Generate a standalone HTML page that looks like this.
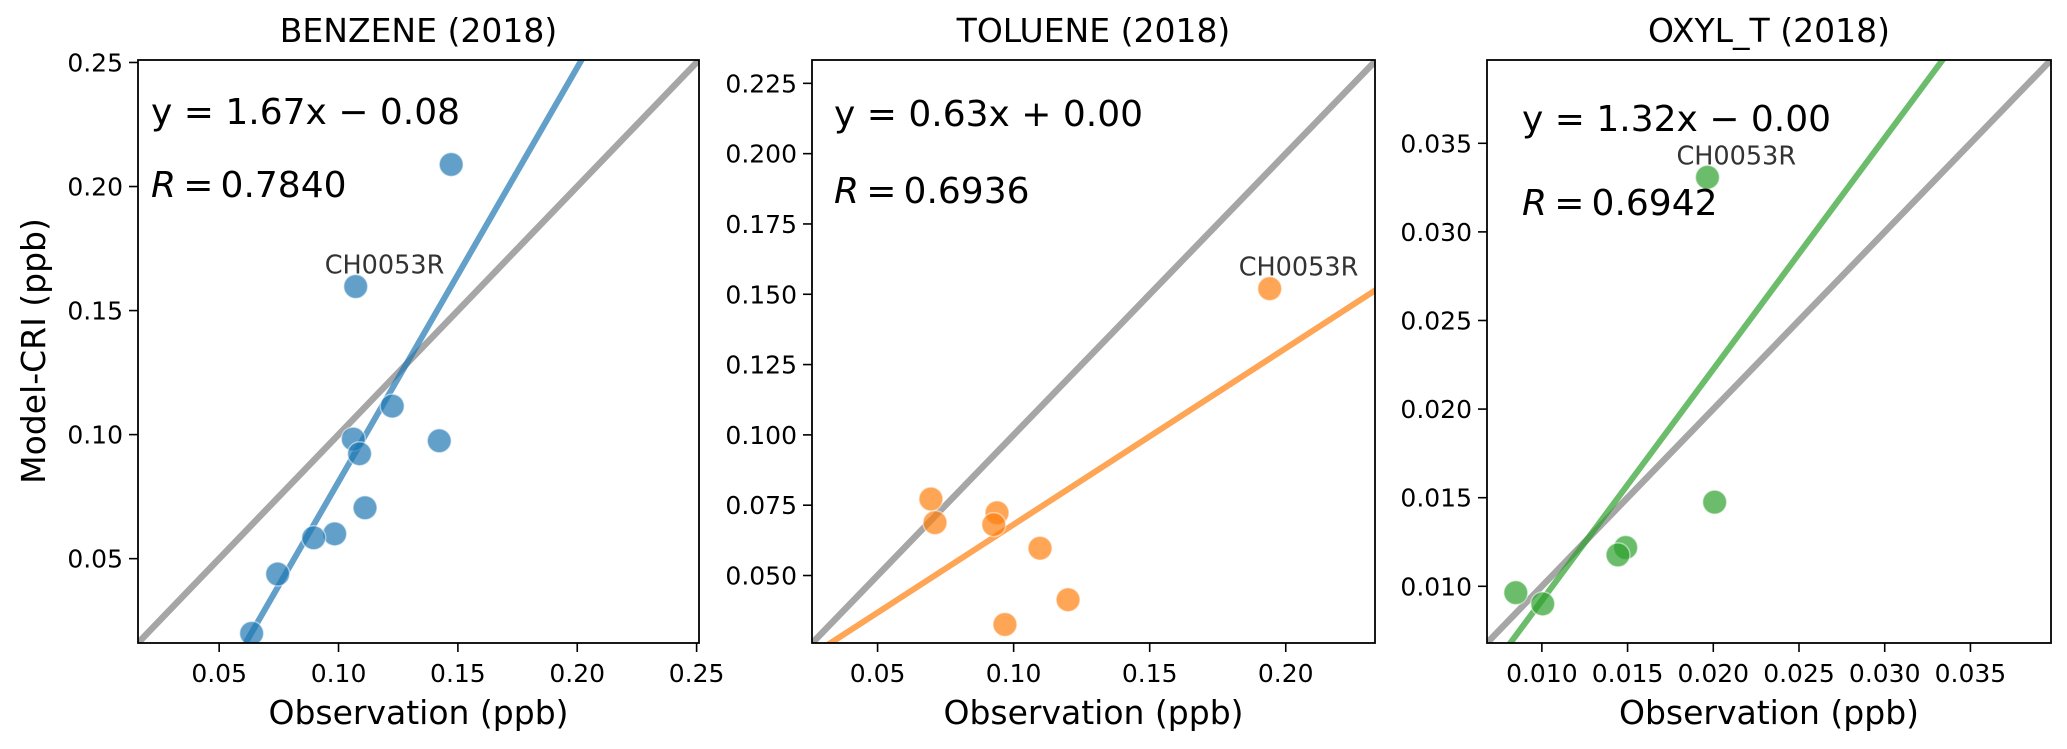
<!DOCTYPE html>
<html>
<head>
<meta charset="utf-8">
<style>
html,body{margin:0;padding:0;background:#fff;width:2067px;height:749px;overflow:hidden;}
svg{display:block;}
text{font-family:"DejaVu Sans","Liberation Sans",sans-serif;}
</style>
</head>
<body>
<svg id="chart" width="2067" height="749" viewBox="0 0 2067 749" xmlns="http://www.w3.org/2000/svg"></svg>
<script>
// ---------- data ----------
const benzeneObs = [0.1472,0.1072,0.1225,0.1422,0.1062,0.1088,0.1111,0.0984,0.0896,0.0745,0.0636];
const benzeneModel = [0.2089,0.1597,0.1115,0.0975,0.0982,0.0923,0.0705,0.0600,0.0584,0.0438,0.0199];
const benzeneFit = [1.67,-0.086];
const benzeneTicksX = [0.05,0.10,0.15,0.20,0.25];
const benzeneTicksY = [0.05,0.10,0.15,0.20,0.25];
const benzeneTickLabelsX = ["0.05","0.10","0.15","0.20","0.25"];
const benzeneTickLabelsY = ["0.05","0.10","0.15","0.20","0.25"];
const benzeneLimits = [0.016,0.251];

const tolueneObs = [0.1941,0.0696,0.0711,0.0939,0.0927,0.1097,0.1200,0.0968];
const tolueneModel = [0.1520,0.0772,0.0688,0.0723,0.0681,0.0597,0.0414,0.0326];
const tolueneFit = [0.6265,0.0055];
const tolueneTicksX = [0.05,0.10,0.15,0.20];
const tolueneTicksY = [0.050,0.075,0.100,0.125,0.150,0.175,0.200,0.225];
const tolueneTickLabelsX = ["0.05","0.10","0.15","0.20"];
const tolueneTickLabelsY = ["0.050","0.075","0.100","0.125","0.150","0.175","0.200","0.225"];
const tolueneLimitsX = [0.0259,0.2328];
const tolueneLimitsY = [0.026,0.2333];

const oxylObs = [0.01966,0.02008,0.01489,0.01444,0.00848,0.01005];
const oxylModel = [0.03308,0.01475,0.01219,0.01177,0.00964,0.00901];
const oxylFit = [1.305,-0.00385];
const oxylTicksX = [0.010,0.015,0.020,0.025,0.030,0.035];
const oxylTicksY = [0.010,0.015,0.020,0.025,0.030,0.035];
const oxylTickLabelsX = ["0.010","0.015","0.020","0.025","0.030","0.035"];
const oxylTickLabelsY = ["0.010","0.015","0.020","0.025","0.030","0.035"];
const oxylLimits = [0.0068,0.0397];

const NS = "http://www.w3.org/2000/svg";
const svg = document.getElementById("chart");
function mk(tag, attrs, parent){
  const e = document.createElementNS(NS, tag);
  for (const k in attrs) e.setAttribute(k, attrs[k]);
  (parent||svg).appendChild(e);
  return e;
}

const panels = [
  {key:"benzene", title:"BENZENE (2018)", x0:138, x1:699, obs:benzeneObs, mod:benzeneModel, fit:benzeneFit,
   lx:benzeneLimits, ly:benzeneLimits, tx:benzeneTicksX, ty:benzeneTicksY, tlx:benzeneTickLabelsX, tly:benzeneTickLabelsY,
   color:"#1f77b4", eq:"y = 1.67x \u2212 0.08", r:"0.7840", eqX:151, eqY:124, rY:197, label:1},
  {key:"toluene", title:"TOLUENE (2018)", x0:812, x1:1375, obs:tolueneObs, mod:tolueneModel, fit:tolueneFit,
   lx:tolueneLimitsX, ly:tolueneLimitsY, tx:tolueneTicksX, ty:tolueneTicksY, tlx:tolueneTickLabelsX, tly:tolueneTickLabelsY,
   color:"#ff7f0e", eq:"y = 0.63x + 0.00", r:"0.6936", eqX:834, eqY:126, rY:203, label:0},
  {key:"oxyl-t", title:"OXYL_T (2018)", x0:1487, x1:2051, obs:oxylObs, mod:oxylModel, fit:oxylFit,
   lx:oxylLimits, ly:oxylLimits, tx:oxylTicksX, ty:oxylTicksY, tlx:oxylTickLabelsX, tly:oxylTickLabelsY,
   color:"#2ca02c", eq:"y = 1.32x \u2212 0.00", r:"0.6942", eqX:1522, eqY:131, rY:215, label:0}
];
const Y0 = 60, Y1 = 643;

panels.forEach((p, i) => {
  const g = mk("g", {});
  
  
  const sx = v => p.x0 + (v - p.lx[0]) / (p.lx[1] - p.lx[0]) * (p.x1 - p.x0);
  const sy = v => Y1 - (v - p.ly[0]) / (p.ly[1] - p.ly[0]) * (Y1 - Y0);
  const clipId = "clip" + i;
  const cp = mk("clipPath", {id: clipId}, g);
  mk("rect", {x:p.x0, y:Y0, width:p.x1-p.x0, height:Y1-Y0}, cp);
  const plot = mk("g", {"clip-path":"url(#"+clipId+")"}, g);

  const lo = Math.min(p.lx[0], p.ly[0]) - 1, hi = Math.max(p.lx[1], p.ly[1]) + 1;
  const one = mk("line", {x1:sx(lo), y1:sy(lo), x2:sx(hi), y2:sy(hi), stroke:"#808080", "stroke-opacity":0.7, "stroke-width":6.5}, plot);
  
  

  const fl = mk("line", {x1:sx(lo), y1:sy(p.fit[0]*lo+p.fit[1]), x2:sx(hi), y2:sy(p.fit[0]*hi+p.fit[1]), stroke:p.color, "stroke-opacity":0.7, "stroke-width":6}, plot);
  
  

  p.obs.forEach((o, j) => {
    const c = mk("circle", {cx:sx(o), cy:sy(p.mod[j]), r:12, fill:p.color, "fill-opacity":0.7, stroke:"#ffffff", "stroke-opacity":0.5, "stroke-width":1.5}, plot);
    
    
  });

  const li = p.label;
  const lab = mk("text", {x:sx(p.obs[li]) - 31, y:sy(p.mod[li]) - 13, "font-size":25.5, fill:"#333333"}, g);
  lab.textContent = "CH0053R";
  
  

  const fr = mk("rect", {x:p.x0, y:Y0, width:p.x1-p.x0, height:Y1-Y0, fill:"none", stroke:"#000", "stroke-width":1.8}, g);
  
  

  p.tx.forEach((t, j) => {
    const x = sx(t);
    mk("line", {x1:x, y1:Y1, x2:x, y2:Y1+9, stroke:"#000", "stroke-width":1.6}, g);
    const tl = mk("text", {x:x, y:682, "font-size":25, "text-anchor":"middle", fill:"#000"}, g);
    tl.textContent = p.tlx[j];
    
    
  });
  p.ty.forEach((t, j) => {
    const y = sy(t);
    mk("line", {x1:p.x0-9, y1:y, x2:p.x0, y2:y, stroke:"#000", "stroke-width":1.6}, g);
    const tl = mk("text", {x:p.x0-15, y:y+9, "font-size":25, "text-anchor":"end", fill:"#000"}, g);
    tl.textContent = p.tly[j];
    
    
  });

  const tt = mk("text", {x:(p.x0+p.x1)/2, y:42, "font-size":33, "text-anchor":"middle", fill:"#000"}, g);
  tt.textContent = p.title;
  
  

  const xl = mk("text", {x:(p.x0+p.x1)/2, y:724, "font-size":33, "text-anchor":"middle", fill:"#000"}, g);
  xl.textContent = "Observation (ppb)";
  
  

  const eq = mk("text", {x:p.eqX, y:p.eqY, "font-size":36, fill:"#000"}, g);
  eq.textContent = p.eq;
  
  
  const rt = mk("text", {x:p.eqX, y:p.rY, "font-size":36, fill:"#000"}, g);
  const ri = mk("tspan", {"font-style":"italic"}, rt);
  ri.textContent = "R";
  const rr = mk("tspan", {}, rt);
  rr.textContent = "\u2009=\u2009" + p.r;
  
  
});

const yt = mk("text", {x:0, y:0, "font-size":33, "text-anchor":"middle", fill:"#000", transform:"translate(45,351) rotate(-90)"});
yt.textContent = "Model-CRI (ppb)";


</script>
</body>
</html>
